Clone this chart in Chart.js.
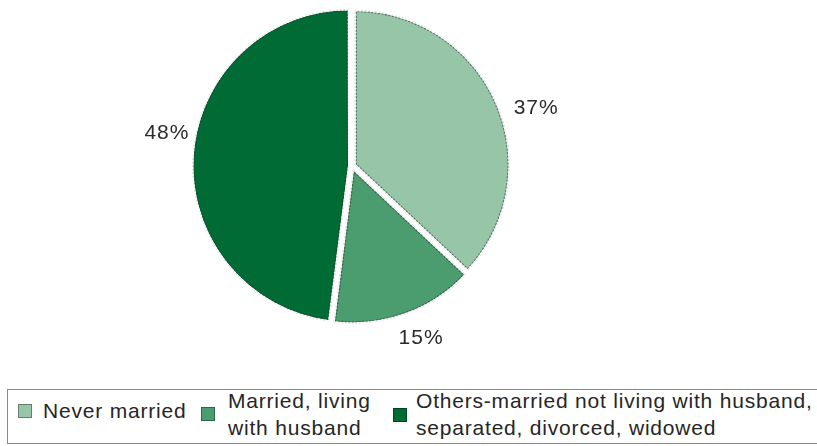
<!DOCTYPE html>
<html>
<head>
<meta charset="utf-8">
<script src="https://cdn.jsdelivr.net/npm/chart.js@4.4.0/dist/chart.umd.min.js"></script>
<style>
	html, body { margin: 0; padding: 0; background: #fff; }
	#wrap { position: relative; width: 817px; height: 446px; overflow: hidden; font-family: 'Liberation Sans', Arial, sans-serif; color: #262626; }
	#pie { position: absolute; left: 0; top: 0; }
	#legend { position: absolute; left: 7px; top: 389px; width: 830px; height: 53px; border: 1px solid #8a8a8a; }
	.item { position: absolute; font-size: 21px; letter-spacing: 0.8px; line-height: 27px; white-space: nowrap; }
	.box { position: absolute; width: 14px; height: 14px; box-sizing: border-box; border: 1px solid rgba(0, 0, 0, 0.35); }
</style>
</head>
<body>
<div id="wrap">
	<canvas id="pie" width="817" height="380"></canvas>
	<div id="legend"></div>
</div>
<script>
const categories = [
	['Never married'],
	['Married, living', 'with husband'],
	['Others-married not living with husband,', 'separated, divorced, widowed'],
];
const shares = [37, 15, 48];
const colours = ['#96c5a8', '#4b9d6f', '#006b34'];

const pieCanvas = document.getElementById('pie');
const legendBox = document.getElementById('legend');

// percentage labels sit just outside each slice, nudged a little off the mid angle
const sliceLabels = {
	id: 'sliceLabels',
	afterDatasetsDraw(chart, args, opts) {
		const ctx = chart.ctx;
		const arcs = chart.getDatasetMeta(0).data;
		ctx.save();
		ctx.font = '21px "Liberation Sans", Arial, sans-serif';
		ctx.fillStyle = '#2a2a2a';
		ctx.textAlign = 'center';
		ctx.textBaseline = 'middle';
		if ('letterSpacing' in ctx) ctx.letterSpacing = '1px';
		arcs.forEach((arc, i) => {
			const p = arc.getProps(['x', 'y', 'startAngle', 'endAngle', 'outerRadius']);
			const mid = (p.startAngle + p.endAngle) / 2 + (opts.shift[i] * Math.PI) / 180;
			const r = p.outerRadius + opts.gap[i];
			ctx.fillText(shares[i] + '%', p.x + Math.cos(mid) * r, p.y + Math.sin(mid) * r);
		});
		ctx.restore();
	},
};

// thin dotted grey rim just inside the white borders
const sliceRims = {
	id: 'sliceRims',
	afterDatasetsDraw(chart) {
		const ctx = chart.ctx;
		const arcs = chart.getDatasetMeta(0).data;
		arcs.forEach((arc) => {
			const p = arc.getProps(['x', 'y', 'startAngle', 'endAngle', 'outerRadius', 'circumference']);
			const o = arc.options;
			const off = (o.offset || 0) / 4;
			const half = (p.startAngle + p.endAngle) / 2;
			const fix = 1 - Math.sin(Math.min(Math.PI, p.circumference || 0));
			const R = p.outerRadius + off * fix;
			ctx.save();
			ctx.translate(Math.cos(half) * off, Math.sin(half) * off);
			ctx.beginPath();
			ctx.moveTo(p.x, p.y);
			ctx.arc(p.x, p.y, R, p.startAngle, p.endAngle);
			ctx.closePath();
			ctx.clip();
			ctx.lineJoin = 'round';
			ctx.setLineDash([2, 1.5]);
			ctx.strokeStyle = 'rgba(45, 45, 45, 0.55)';
			ctx.lineWidth = 4.5;
			ctx.stroke();
			ctx.setLineDash([]);
			ctx.strokeStyle = '#fff';
			ctx.lineWidth = o.borderWidth;
			ctx.stroke();
			ctx.restore();
		});
	},
};

new Chart(pieCanvas, {
	type: 'pie',
	data: {
		labels: categories.map((c) => c.join(' ')),
		datasets: [
			{
				data: shares,
				backgroundColor: colours,
				borderColor: '#fff',
				borderWidth: 2,
				offset: 12,
				hoverOffset: 0,
			},
		],
	},
	options: {
		responsive: false,
		animation: false,
		events: [],
		layout: {
			padding: { left: 152, right: 265, top: 5, bottom: 53 },
		},
		plugins: {
			legend: { display: false },
			tooltip: { enabled: false },
			sliceLabels: { shift: [6, -2, 6.5], gap: [39, 32, 34] },
		},
	},
	plugins: [sliceRims, sliceLabels],
});

// legend strip: square swatch plus one or two lines of text
const swatchAt = [
	{ box: [10, 14], text: [35, 7] },
	{ box: [193, 17], text: [220, -3] },
	{ box: [385, 18], text: [408, -3] },
];
categories.forEach((lines, i) => {
	const box = document.createElement('div');
	box.className = 'box';
	box.style.left = swatchAt[i].box[0] + 'px';
	box.style.top = swatchAt[i].box[1] + 'px';
	box.style.background = colours[i];
	const label = document.createElement('div');
	label.className = 'item';
	label.style.left = swatchAt[i].text[0] + 'px';
	label.style.top = swatchAt[i].text[1] + 'px';
	label.innerHTML = lines.join('<br>');
	legendBox.append(box);
	legendBox.append(label);
});
</script>
</body>
</html>
